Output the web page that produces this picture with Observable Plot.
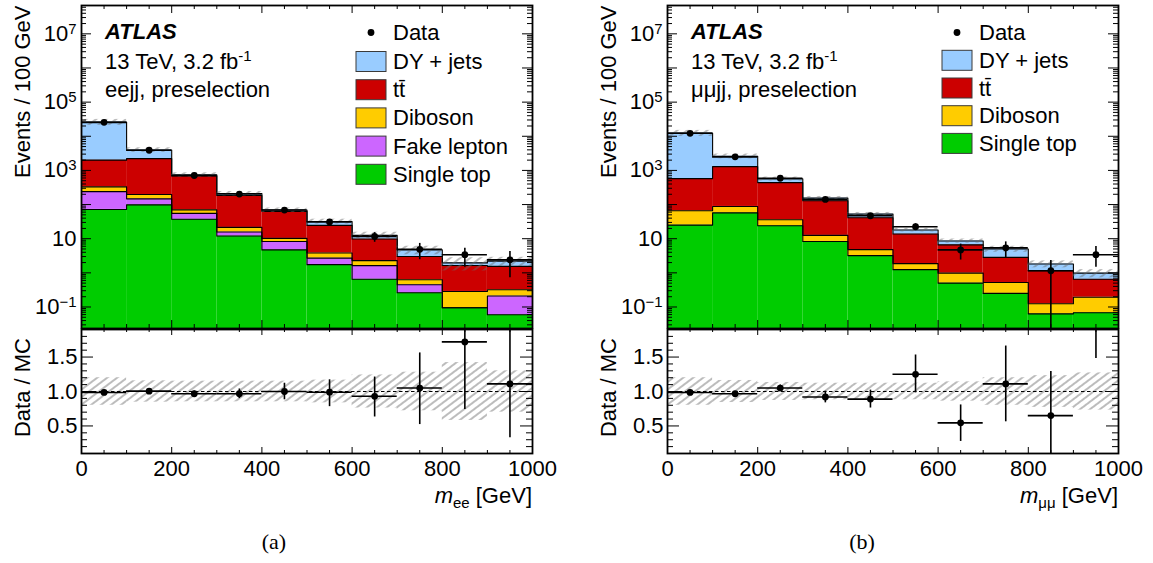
<!DOCTYPE html>
<html><head><meta charset="utf-8">
<script src="https://cdn.jsdelivr.net/npm/d3@7"></script>
<script src="https://cdn.jsdelivr.net/npm/@observablehq/plot@0.6"></script>
<style>
html,body{margin:0;padding:0;background:#fff;}
#root{position:relative;width:1153px;height:563px;overflow:hidden;background:#fff;font-family:"Liberation Sans",Arial,sans-serif;}
#root svg{position:absolute;background:transparent !important;}
</style></head><body><div id="root"></div>
<script>
// ---------- data ----------
const binLow  = [0,100,200,300,400,500,600,700,800,900];
const binHigh = [100,200,300,400,500,600,700,800,900,1000];
const xMajorTicks = [0,200,400,600,800,1000];
const xTickLabels = ["0","200","400","600","800","1000"];
const yLogLabelTicks = [0.1,10,1e3,1e5,1e7];
const yLogLabels = ["10^\u22121","10","10^3","10^5","10^7"];
const ratioLabelTicks = [0.5,1.0,1.5];
const ratioLabels = ["0.5","1.0","1.5"];

const processNames  = ["DY + jets","tt\u0304","Diboson","Fake lepton","Single top"];
const processColors = ["#99ccff","#cc0000","#ffcc00","#cc66ff","#00cc00"];

// ee channel (events / 100 GeV)
const eeDY        = [24000,1770,50,26,6.0,7.5,2.7,1.7,0.32,0.65];
const eeTtbar     = [1670,2013,620,163,52.8,20.7,7.5,2.37,1.35,1.23];
const eeDiboson   = [90,50,15,5.7,1.9,1.1,0.65,0.18,0.19,0.11];
const eeFake      = [168,49,18,3.7,3.6,0.96,0.98,0.19,0,0.15];
const eeSingleTop = [72,98,37,12,4.7,1.74,0.65,0.26,0.095,0.059];
const eeData      = [25600,3900,710,203,69,31,11.6,4.9,3.4,2.4];
const eeRatio     = [0.986,1.005,0.967,0.967,1.0,0.99,0.93,1.05,1.72,1.11];
const eeRatioErrLo= [0.01,0.02,0.04,0.07,0.12,0.21,0.30,0.53,0.98,0.78];
const eeRatioErrHi= [0.01,0.02,0.04,0.07,0.12,0.18,0.28,0.51,0.95,0.85];
const eeMCRelErr  = [0.20,0.155,0.15,0.15,0.15,0.165,0.24,0.28,0.42,0.30];

// mumu channel
const mmDY        = [11825,1310,125,25,11.5,4.2,2.0,2.16,0.66,0.33];
const mmTtbar     = [509,1202,404,116.5,36.2,11.84,5.62,2.32,1.036,0.457];
const mmDiboson   = [41,31,12,4.2,1.6,0.62,0.48,0.27,0.061,0.125];
const mmSingleTop = [25,57,24,8.3,3.2,1.24,0.50,0.25,0.063,0.068];
const mmData      = [12200,2500,590,141,47,22.4,4.7,5.4,1.15,3.4];
const mmRatio     = [0.986,0.967,1.05,0.92,0.89,1.25,0.545,1.11,0.65,3.47];
const mmRatioErrLo= [0.01,0.02,0.045,0.085,0.13,0.27,0.27,0.55,0.64,1.99];
const mmRatioErrHi= [0.01,0.02,0.045,0.085,0.13,0.28,0.26,0.55,0.64,2.6];
const mmMCRelErr  = [0.20,0.16,0.13,0.12,0.12,0.12,0.14,0.20,0.23,0.27];

// ---------- layout ----------
const yMin = Math.pow(10,-1.63), yMax = Math.pow(10,7.83);
const FONT = "font-family:'Liberation Sans',Arial,sans-serif;font-size:22px;background:transparent;";
const PW = 560, ML = 81, MR = 28;
const FW = PW - ML - MR; // frame width 451

const root = document.getElementById("root");
// hatch pattern
const defsSvg = d3.select(root).append("svg").attr("width",0).attr("height",0).style("position","absolute");
defsSvg.append("defs").append("pattern").attr("id","hatch").attr("patternUnits","userSpaceOnUse")
  .attr("width",10).attr("height",6).attr("patternTransform","rotate(-37)")
  .append("line").attr("x1",0).attr("x2",10).attr("y1",3).attr("y2",3)
  .attr("stroke","#6a6a6a").attr("stroke-width",0.9);

function logMinor() {
  const out = [];
  for (let k=-2;k<=7;k++) for (let m=2;m<=9;m++) { const v=m*Math.pow(10,k); if (v>yMin && v<yMax) out.push(v); }
  return out;
}
function logMajor() { const out=[]; for (let k=-1;k<=7;k++) out.push(Math.pow(10,k)); return out; }
const xMinor = d3.range(50,1000,50).filter(v => v % 200 !== 0);
const ratioMinor = d3.range(2,19).map(v=>v/10).filter(v=>![0.5,1.0,1.5].includes(v));

function yTicks(vals, len) {
  return [Plot.tickY(vals,{y:d=>d, insetRight:FW-len, stroke:"black", strokeWidth:1}),
          Plot.tickY(vals,{y:d=>d, insetLeft:FW-len, stroke:"black", strokeWidth:1})];
}
function xTicks(vals, len, H) {
  return [Plot.tickX(vals,{x:d=>d, insetTop:H-len, stroke:"black", strokeWidth:1}),
          Plot.tickX(vals,{x:d=>d, insetBottom:H-len, stroke:"black", strokeWidth:1})];
}
function supText(svg) {
  d3.select(svg).selectAll("text").each(function(){
    const t = this.textContent;
    if (t.includes("^") && this.childElementCount === 0) {
      const [b,e] = t.split("^");
      const s = d3.select(this); s.text(b);
      s.append("tspan").attr("dy","-0.48em").attr("font-size","0.68em").text(e);
    }
  });
}

function drawPanel(p) {
  // stack
  const fills = [], outlines = [];
  let base = binLow.map(()=>0);
  p.procs.forEach(([name, vals]) => {
    const top = base.map((b,i)=>b+vals[i]);
    const rows = [];
    binLow.forEach((x0,i)=>{ if (vals[i]>0) rows.push({x1:x0,x2:binHigh[i],y1:base[i]>0?base[i]:yMin,y2:top[i]}); });
    const color = processColors[processNames.indexOf(name)];
    fills.push(Plot.rect(rows,{x1:"x1",x2:"x2",y1:"y1",y2:"y2",fill:color}));
    const pts = binLow.map((x,i)=>({x,y:top[i]})).concat([{x:1000,y:top[top.length-1]}]);
    outlines.push(Plot.line(pts,{x:"x",y:"y",curve:"step-after",stroke:"black",strokeWidth:1.1}));
    base = top;
  });
  const total = base;
  const bins = binLow.map((x0,i)=>({
    x1:x0, x2:binHigh[i], xc:(x0+binHigh[i])/2, total:total[i],
    band1: total[i]*(1-p.rel[i]), band2: total[i]*(1+p.rel[i]),
    data:p.data[i],
    dLo: p.data[i]*(1-p.errLo[i]/p.ratio[i]), dHi: p.data[i]*(1+p.errHi[i]/p.ratio[i]),
    r:p.ratio[i], rLo:p.ratio[i]-p.errLo[i], rHi:p.ratio[i]+p.errHi[i],
    b1:1-p.rel[i], b2:1+p.rel[i]
  }));

  const top = Plot.plot({
    width:PW, height:329, marginLeft:ML, marginRight:MR, marginTop:5, marginBottom:1,
    style:FONT,
    x:{domain:[0,1000], axis:null},
    y:{type:"log", domain:[yMin,yMax], axis:null},
    marks:[
      ...fills, ...outlines,
      Plot.rect(bins,{x1:"x1",x2:"x2",y1:"band1",y2:"band2",fill:"url(#hatch)",clip:true}),
      Plot.ruleX(bins,{x:"xc",y1:"dLo",y2:"dHi",stroke:"black",strokeWidth:1.6,clip:true}),
      Plot.ruleY(bins,{y:"data",x1:"x1",x2:"x2",stroke:"black",strokeWidth:1.6,clip:true}),
      Plot.dot(bins,{x:"xc",y:"data",r:3.4,fill:"black",stroke:"none",clip:true}),
      ...yTicks(logMajor(),10), ...yTicks(logMinor(),5),
      ...xTicks(xMajorTicks,8,323), ...xTicks(xMinor,4,323),
      Plot.frame({stroke:"black",strokeWidth:1.8}),
      Plot.axisY({ticks:yLogLabelTicks, tickFormat:d=>yLogLabels[yLogLabelTicks.indexOf(d)], tickSize:0, tickPadding:5, fontSize:22}),
      Plot.text(["Events / 100 GeV"],{frameAnchor:"top-left", dx:-59, rotate:-90, textAnchor:"end", lineAnchor:"middle", fontSize:22})
    ]
  });
  top.style.left = p.ox+"px"; top.style.top = "0px";
  root.appendChild(top);
  supText(top);

  const ratio = Plot.plot({
    width:PW, height:186, marginLeft:ML, marginRight:MR, marginTop:2, marginBottom:60,
    style:FONT,
    x:{domain:[0,1000], axis:null},
    y:{domain:[0.1,1.9], axis:null},
    marks:[
      Plot.rect(bins,{x1:"x1",x2:"x2",y1:"b1",y2:"b2",fill:"url(#hatch)",clip:true}),
      Plot.ruleY([1],{stroke:"black",strokeWidth:1.2,strokeDasharray:"3.5,2.5"}),
      Plot.ruleX(bins,{x:"xc",y1:"rLo",y2:"rHi",stroke:"black",strokeWidth:1.6,clip:true}),
      Plot.ruleY(bins,{y:"r",x1:"x1",x2:"x2",stroke:"black",strokeWidth:1.6,clip:true}),
      Plot.dot(bins,{x:"xc",y:"r",r:3.4,fill:"black",stroke:"none",clip:true}),
      ...yTicks(ratioLabelTicks,12), ...yTicks(ratioMinor,6),
      ...xTicks(xMajorTicks,6,124), ...xTicks(xMinor,3,124),
      Plot.frame({stroke:"black",strokeWidth:1.8}),
      Plot.axisY({ticks:ratioLabelTicks, tickFormat:d=>ratioLabels[ratioLabelTicks.indexOf(d)], tickSize:0, tickPadding:4, fontSize:22}),
      Plot.axisX({ticks:xMajorTicks, tickFormat:d=>xTickLabels[xMajorTicks.indexOf(d)], tickSize:0, tickPadding:7, fontSize:22}),
      Plot.text(["Data / MC"],{frameAnchor:"left", dx:-59, dy:-4, rotate:-90, textAnchor:"middle", lineAnchor:"middle", fontSize:22})
    ]
  });
  ratio.style.left = p.ox+"px"; ratio.style.top = "327px";
  root.appendChild(ratio);
}

const panelEE = {ox:0,
  procs:[["Single top",eeSingleTop],["Fake lepton",eeFake],["Diboson",eeDiboson],["tt\u0304",eeTtbar],["DY + jets",eeDY]],
  data:eeData, ratio:eeRatio, errLo:eeRatioErrLo, errHi:eeRatioErrHi, rel:eeMCRelErr};
const panelMM = {ox:586,
  procs:[["Single top",mmSingleTop],["Diboson",mmDiboson],["tt\u0304",mmTtbar],["DY + jets",mmDY]],
  data:mmData, ratio:mmRatio, errLo:mmRatioErrLo, errHi:mmRatioErrHi, rel:mmMCRelErr};
drawPanel(panelEE);
drawPanel(panelMM);

// ---------- annotations & legends ----------
const ann = d3.select(root).append("svg").attr("width",1153).attr("height",563)
  .style("left","0px").style("top","0px").style("pointer-events","none")
  .attr("font-family","'Liberation Sans',Arial,sans-serif").attr("font-size",22);

function annotate(ox, channel, subscript, legendNames, rowY, caption, capX) {
  ann.append("text").attr("x",105+ox).attr("y",39).attr("font-weight","bold").attr("font-style","italic").text("ATLAS");
  const t = ann.append("text").attr("x",105+ox).attr("y",69).text("13 TeV, 3.2 fb");
  t.append("tspan").attr("dy",-8).attr("font-size",15).text("-1");
  ann.append("text").attr("x",105+ox).attr("y",97).text(channel);
  // legend
  ann.append("circle").attr("cx",371+ox).attr("cy",32.5).attr("r",3.4).attr("fill","black");
  ann.append("text").attr("x",393+ox).attr("y",40).text("Data");
  legendNames.forEach((n,i)=>{
    const cy = rowY[0] + rowY[1]*i;
    ann.append("rect").attr("x",356+ox).attr("y",cy-10).attr("width",30).attr("height",20)
      .attr("fill",processColors[processNames.indexOf(n)]).attr("stroke","#3a3a3a").attr("stroke-width",1);
    ann.append("text").attr("x",393+ox).attr("y",cy+7.5).text(n);
  });
  // x-axis title
  const xt = ann.append("text").attr("x",532+ox).attr("y",503).attr("text-anchor","end");
  xt.append("tspan").attr("font-style","italic").text("m");
  xt.append("tspan").attr("font-size",15).attr("dy",5).text(subscript);
  xt.append("tspan").attr("dy",-5).text(" [GeV]");
  ann.append("text").attr("x",capX).attr("y",549).attr("text-anchor","middle")
    .attr("font-family","'Liberation Serif','Times New Roman',serif").attr("font-size",22).text(caption);
}
annotate(0, "eejj, preselection", "ee", ["DY + jets","tt\u0304","Diboson","Fake lepton","Single top"], [61.5,28.2], "(a)", 274);
annotate(586, "\u03bc\u03bcjj, preselection", "\u03bc\u03bc", ["DY + jets","tt\u0304","Diboson","Single top"], [60.3,27.7], "(b)", 862);
</script></body></html>
